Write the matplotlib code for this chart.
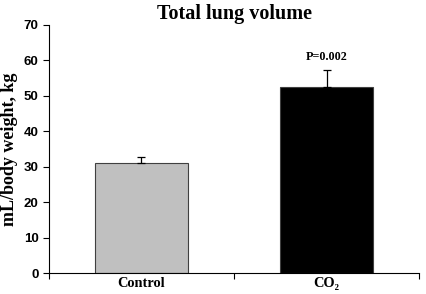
import matplotlib
matplotlib.use("Agg")
import matplotlib.pyplot as plt
import numpy as np

groups = ["Control", "CO\u2082"]
means = [31.0, 52.5]
errs = [1.9, 4.7]
colors = ["#c0c0c0", "#000000"]
yticks = [0, 10, 20, 30, 40, 50, 60, 70]

fig = plt.figure(figsize=(4.26, 2.94), dpi=100)
ax = fig.add_axes([0.115, 0.0704, 0.8686, 0.8446])

x = np.arange(len(groups)) + 0.5
ax.bar(x, means, width=0.5, color=colors, edgecolor="#404040", linewidth=0.8, zorder=2)
ax.errorbar(x, means, yerr=[np.zeros(len(errs)), errs], fmt="none", ecolor="black",
            elinewidth=0.9, capsize=3, capthick=0.9, zorder=3)

ax.set_xlim(0, 2)
ax.set_ylim(0, 70)
ax.set_yticks(yticks)
ax.set_yticklabels([str(t) for t in yticks], fontfamily="Liberation Sans",
                   fontweight="bold", fontsize=9.5)
ax.set_xticks([0, 1, 2])
ax.set_xticklabels([])
ax.set_xticks(x, minor=True)
ax.set_xticklabels(groups, minor=True, fontfamily="Liberation Serif",
                   fontweight="bold", fontsize=10.4)
ax.tick_params(axis="x", which="minor", length=0, pad=3)
ax.tick_params(axis="x", which="major", length=4, direction="out")
ax.tick_params(axis="y", length=4, direction="out", pad=3.5)

for s in ["top", "right"]:
    ax.spines[s].set_visible(False)

ax.set_ylabel("mL/body weight, kg", fontfamily="Liberation Serif",
              fontweight="bold", fontsize=13, labelpad=4)
ax.set_title("Total lung volume", fontfamily="Liberation Serif",
             fontweight="bold", fontsize=14.5, pad=4)
ax.text(x[1], means[1] + errs[1] + 2, "P=0.002", ha="center", va="bottom",
        fontfamily="Liberation Serif", fontweight="bold", fontsize=8.7)

fig.savefig("out.png", dpi=100)
